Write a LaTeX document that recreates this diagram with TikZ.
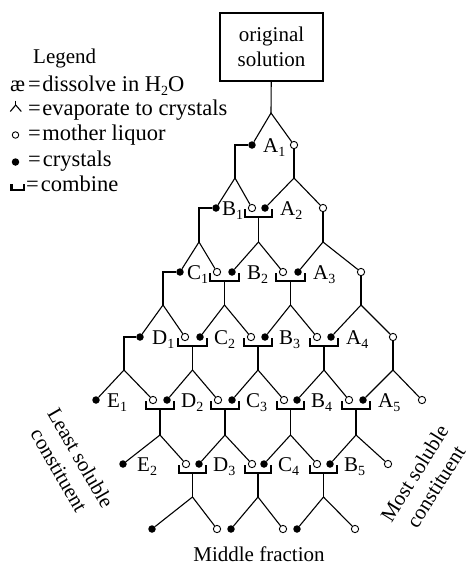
\documentclass[tikz,border=0pt]{standalone}
\usepackage{fontspec}
\setmainfont{Liberation Serif}
\usetikzlibrary{calc}
\newcommand\fs{\fontsize{21}{25}\selectfont}
\newcommand\lfs{\fontsize{22.5}{25}\selectfont}
\newcommand\sub[1]{\raisebox{-4.5pt}{\fontsize{14}{14}\selectfont #1}}
\newcommand\mysplit[3]{\draw[ln] (#2) -- (#1) -- (#3);}
\newcommand\mycombine[4]{%
  \coordinate (#3) at #4;
  \coordinate (#3-t) at (#3 |- #1);
  \draw[ln] ($(#1.center)+(-7,1)$) -- ++(0,8) -| ($(#2.center)+(7,1)$);
  \draw[ln] ($(#3-t)+(0,9)$) -- (#3);
}
\begin{document}
\begin{tikzpicture}[x=1pt,y=-1pt,
  every node/.style={font=\fs},
  ln/.style={line width=1.1pt},
  fdot/.style={circle, fill=black, inner sep=0pt, minimum size=7.5pt},
  odot/.style={circle, draw=black, fill=white, line width=0.9pt, inner sep=0pt, minimum size=7.3pt},
  lab/.style={anchor=base west, inner sep=0pt},
  txt/.style={anchor=base west, inner sep=0pt, font=\lfs}]
\useasboundingbox (0,0) rectangle (471,566);

% legend
\node[txt, font=\fs] (leg) at (33,63) {Legend};
\node[txt] (lgs1) at (10,91) {æ};
\node[txt] (lgt1) at (28,91) {=\kern1.5pt dissolve in H\sub{2}O};
\coordinate (ev) at (15.7,105);
\draw[ln] (15.7,100.5) -- (ev);
\draw[ln] (10.3,111.5) -- (ev) -- (21.3,111.5);
\node[txt] (lgt2) at (28,115.5) {=\kern1.5pt evaporate to crystals};
\node[odot, minimum size=6.5pt] (lgo) at (15.5,135) {};
\node[txt] (lgt3) at (28,140) {=\kern1.5pt mother liquor};
\node[fdot] (lgf) at (15.5,162) {};
\node[txt] (lgt4) at (28,166) {=\kern2pt crystals};
\draw[line width=2.4pt] (11.3,184) -- (11.3,190) -- (23.8,190) -- (23.8,184);
\node[txt] (lgt5) at (26,191.5) {=\kern2pt combine};

% original solution
\node[draw, line width=1.1pt, minimum width=103pt, minimum height=68pt, align=center, inner sep=0pt] (orig) at (271.5,47) {original\\solution};

% dots
\node[fdot] (a1f) at (252,145) {}; \node[odot] (a1o) at (294,145) {};
\node[fdot] (b1f) at (216,208) {}; \node[odot] (b1o) at (252,208) {};
\node[fdot] (a2f) at (265,208) {}; \node[odot] (a2o) at (323,208) {};
\node[fdot] (c1f) at (180,272) {}; \node[odot] (c1o) at (217,272) {};
\node[fdot] (b2f) at (232,272) {}; \node[odot] (b2o) at (283,272) {};
\node[fdot] (a3f) at (298,272) {}; \node[odot] (a3o) at (361,272) {};
\node[fdot] (d1f) at (140,337) {}; \node[odot] (d1o) at (185,337) {};
\node[fdot] (c2f) at (200,337) {}; \node[odot] (c2o) at (251,337) {};
\node[fdot] (b3f) at (265,337) {}; \node[odot] (b3o) at (317,337) {};
\node[fdot] (a4f) at (331,337) {}; \node[odot] (a4o) at (393,337) {};
\node[fdot] (e1f) at (96,400) {};  \node[odot] (e1o) at (153,400) {};
\node[fdot] (d2f) at (167,400) {}; \node[odot] (d2o) at (218,400) {};
\node[fdot] (c3f) at (232,400) {}; \node[odot] (c3o) at (284,400) {};
\node[fdot] (b4f) at (297,400) {}; \node[odot] (b4o) at (349,400) {};
\node[fdot] (a5f) at (363,400) {}; \node[odot] (a5o) at (422,400) {};
\node[fdot] (e2f) at (123,464) {}; \node[odot] (e2o) at (186,464) {};
\node[fdot] (d3f) at (199,464) {}; \node[odot] (d3o) at (252,464) {};
\node[fdot] (c4f) at (264,464) {}; \node[odot] (c4o) at (317,464) {};
\node[fdot] (b5f) at (330,464) {}; \node[odot] (b5o) at (388,464) {};
\node[fdot] (m1f) at (152,529) {}; \node[odot] (m1o) at (217,529) {};
\node[fdot] (m2f) at (231,529) {}; \node[odot] (m2o) at (283,529) {};
\node[fdot] (m3f) at (297,529) {}; \node[odot] (m3o) at (355,529) {};

% apexes reached by a stem, a jog or a vertical
\coordinate (p0) at (271,113);
\coordinate (q1) at (235,178); \coordinate (q2) at (294,178);
\coordinate (s1) at (199,242); \coordinate (s3) at (323,242);
\coordinate (t1) at (163,305); \coordinate (t4) at (361,305);
\coordinate (u1) at (124,370); \coordinate (u5) at (393,370);

\draw[ln] (orig) -- (p0);
\draw[ln] (a1f) -| (q1); \draw[ln] (a1o) -- (q2);
\draw[ln] (b1f) -| (s1); \draw[ln] (a2o) -- (s3);
\draw[ln] (c1f) -| (t1); \draw[ln] (a3o) -- (t4);
\draw[ln] (d1f) -| (u1); \draw[ln] (a4o) -- (u5);

% combines
\mycombine{b1o}{a2f}{s2}{(258.5,242)}
\mycombine{c1o}{b2f}{t2}{(224.5,305)}
\mycombine{b2o}{a3f}{t3}{(290.5,305)}
\mycombine{d1o}{c2f}{u2}{(192.5,370)}
\mycombine{c2o}{b3f}{u3}{(258,370)}
\mycombine{b3o}{a4f}{u4}{(324,370)}
\mycombine{e1o}{d2f}{v1}{(160,435)}
\mycombine{d2o}{c3f}{v2}{(225,435)}
\mycombine{c3o}{b4f}{v3}{(290.5,435)}
\mycombine{b4o}{a5f}{v4}{(356,435)}
\mycombine{e2o}{d3f}{w1}{(192.5,497)}
\mycombine{d3o}{c4f}{w2}{(258,497)}
\mycombine{c4o}{b5f}{w3}{(323.5,497)}

% splits
\mysplit{p0}{a1f}{a1o}
\mysplit{q1}{b1f}{b1o} \mysplit{q2}{a2f}{a2o}
\mysplit{s1}{c1f}{c1o} \mysplit{s2}{b2f}{b2o} \mysplit{s3}{a3f}{a3o}
\mysplit{t1}{d1f}{d1o} \mysplit{t2}{c2f}{c2o} \mysplit{t3}{b3f}{b3o} \mysplit{t4}{a4f}{a4o}
\mysplit{u1}{e1f}{e1o} \mysplit{u2}{d2f}{d2o} \mysplit{u3}{c3f}{c3o} \mysplit{u4}{b4f}{b4o} \mysplit{u5}{a5f}{a5o}
\mysplit{v1}{e2f}{e2o} \mysplit{v2}{d3f}{d3o} \mysplit{v3}{c4f}{c4o} \mysplit{v4}{b5f}{b5o}
\mysplit{w1}{m1f}{m1o} \mysplit{w2}{m2f}{m2o} \mysplit{w3}{m3f}{m3o}

% labels
\node[lab] (la1) at (263,152) {A\sub{1}};
\node[lab] (lb1) at (222,215) {B\sub{1}};
\node[lab] (la2) at (280,215) {A\sub{2}};
\node[lab] (lc1) at (187,279) {C\sub{1}};
\node[lab] (lb2) at (247,279) {B\sub{2}};
\node[lab] (la3) at (313,279) {A\sub{3}};
\node[lab] (ld1) at (152,344) {D\sub{1}};
\node[lab] (lc2) at (214,344) {C\sub{2}};
\node[lab] (lb3) at (279,344) {B\sub{3}};
\node[lab] (la4) at (346,344) {A\sub{4}};
\node[lab] (le1) at (107,407) {E\sub{1}};
\node[lab] (ld2) at (181,407) {D\sub{2}};
\node[lab] (lc3) at (246,407) {C\sub{3}};
\node[lab] (lb4) at (311,407) {B\sub{4}};
\node[lab] (la5) at (378,407) {A\sub{5}};
\node[lab] (le2) at (137,471) {E\sub{2}};
\node[lab] (ld3) at (213,471) {D\sub{3}};
\node[lab] (lc4) at (278,471) {C\sub{4}};
\node[lab] (lb5) at (344,471) {B\sub{5}};

% side and bottom texts
\node[rotate=-60, align=center] (least) at (70,464) {Least soluble\\constituent};
\node[rotate=58, align=center] (most) at (425,480) {Most soluble\\constituent};
\node[anchor=base] (middle) at (259,561.5) {Middle fraction};
\end{tikzpicture}
\end{document}
